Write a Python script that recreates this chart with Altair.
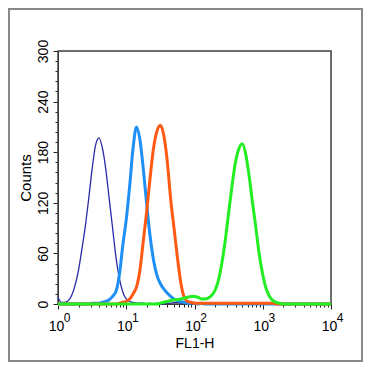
import altair as alt
import pandas as pd

# log10 channel grid (exponent of FL1-H)
EXPONENTS = [round(i * 0.05, 2) for i in range(81)]

NAVY = [8, 2, 2, 4, 10, 22, 40, 65, 92, 125, 160,
        188, 197, 185, 160, 125, 90, 55, 30, 14, 6,
        3, 2, 1, 1, 1, 0, 1, 0, 1, 0,
        0, 1, 1, 2, 2, 1, 2, 1, 1, 1,
        0, 0, 0, 0, 0, 0, 0, 0, 0, 0,
        0, 0, 0, 0, 0, 0, 0, 0, 0, 0,
        0, 0, 0, 0, 0, 0, 0, 0, 0, 0,
        0, 0, 0, 0, 0, 0, 0, 0, 0, 0]

SKY = [0, 0, 0, 0, 0, 0, 0, 0, 0, 0, 1,
       1, 1, 2, 3, 5, 9, 15, 35, 70, 100,
       140, 185, 210, 195, 160, 118, 80, 52, 34, 24,
       18, 13, 9, 6, 4, 3, 2, 1, 1, 1,
       0, 1, 0, 0, 0, 0, 0, 0, 0, 0,
       0, 0, 0, 0, 0, 0, 0, 0, 0, 0,
       0, 0, 0, 0, 0, 0, 0, 0, 0, 0,
       0, 0, 0, 0, 0, 0, 0, 0, 0, 0]

ORANGE = [0, 0, 0, 0, 0, 0, 0, 0, 0, 0, 0,
          0, 0, 0, 0, 0, 0, 0, 1, 2, 3,
          6, 12, 20, 40, 75, 110, 150, 185, 205, 212,
          200, 170, 125, 90, 55, 25, 8, 3, 2, 1,
          1, 1, 1, 1, 1, 1, 1, 1, 1, 1,
          1, 1, 1, 1, 1, 1, 1, 1, 1, 1,
          1, 1, 1, 0, 0, 0, 0, 0, 0, 0,
          0, 0, 0, 0, 0, 0, 0, 0, 0, 0]

GREEN = [0, 0, 0, 0, 0, 0, 0, 0, 0, 0, 0,
         0, 0, 0, 0, 0, 0, 0, 0, 0, 0,
         0, 0, 0, 0, 0, 0, 0, 0, 0, 1,
         2, 3, 4, 5, 5, 6, 7, 8, 9, 9,
         8, 6, 6, 7, 10, 16, 28, 48, 75, 108,
         140, 168, 184, 190, 178, 152, 120, 90, 58, 35,
         18, 9, 4, 2, 1, 0, 0, 0, 0, 0,
         0, 0, 0, 0, 0, 0, 0, 0, 0, 0]

SERIES = ["navy", "sky", "orange", "green"]
COLORS = ["#2a2aa8", "#1e8ff5", "#ff5a14", "#22ee22"]
WIDTHS = [1.3, 3, 3, 3]
Y_TICKS = [0, 60, 120, 180, 240, 300]
DECADES = [0, 1, 2, 3, 4]

W, H = 273, 253

rows = []
for k, (name, vals) in enumerate(zip(SERIES, [NAVY, SKY, ORANGE, GREEN])):
    for i, (e, v) in enumerate(zip(EXPONENTS, vals)):
        rows.append({"x": 10 ** e, "count": v, "series": name, "sidx": k,
                     "col": COLORS[k], "w": WIDTHS[k], "order": i})
df = pd.DataFrame(rows)

major_x = [10 ** d for d in DECADES]
x_vals = sorted(set([m * 10 ** d for d in DECADES[:-1] for m in range(1, 10)] + major_x))
y_vals = list(range(0, 301, 12))

x_scale = alt.Scale(type="log", domain=[1, 10000], nice=False)
y_scale = alt.Scale(domain=[0, 300], nice=False)

x_axis = alt.Axis(
    values=x_vals,
    labelExpr="indexof([1,10,100,1000,10000], datum.value) >= 0 ? '10' : ''",
    tickSize={"condition": {"test": "indexof([1,10,100,1000,10000], datum.value) >= 0", "value": 5}, "value": 3},
    labelFontSize=14, labelFont="Liberation Sans", labelColor="#000",
    labelBaseline="alphabetic", labelPadding=21, labelOffset=-2,
    labelOverlap=False, labelFlush=False,
    grid=False, domainColor="#222", tickColor="#222",
    title="FL1-H", titleFont="Liberation Sans", titleFontSize=14, titleFontWeight="normal",
    titleColor="#000", titleX=W / 2, titleY=43, titleBaseline="alphabetic", titleAlign="center",
)

y_axis = alt.Axis(
    values=y_vals,
    labelExpr="datum.value % 60 === 0 ? datum.label : ''",
    tickSize={"condition": {"test": "datum.value % 60 === 0", "value": 5}, "value": 3},
    labelFontSize=14, labelFont="Liberation Sans", labelColor="#000",
    labelAngle=270, labelAlign="center", labelBaseline="alphabetic", labelPadding=6,
    labelOverlap=False, labelFlush=False,
    grid=False, domainColor="#222", tickColor="#222",
    title="Counts", titleFont="Liberation Sans", titleFontSize=15, titleFontWeight="normal",
    titleColor="#000", titleAngle=270, titleX=-28, titleY=H / 2,
    titleBaseline="alphabetic", titleAlign="center",
)

lines = alt.Chart(df).mark_line(interpolate="monotone").encode(
    x=alt.X("x:Q", scale=x_scale, axis=x_axis),
    y=alt.Y("count:Q", scale=y_scale, axis=y_axis),
    color=alt.Color("col:N", scale=None),
    strokeWidth=alt.StrokeWidth("w:Q", scale=None),
    detail="sidx:O",
    order="order:Q",
)

sup_df = pd.DataFrame({"x": [10 ** d for d in DECADES], "sup": [str(d) for d in DECADES]})
sups = alt.Chart(sup_df).mark_text(
    fontSize=12, font="Liberation Sans", color="#000", dx=9, baseline="alphabetic", align="center"
).encode(
    x=alt.X("x:Q", scale=x_scale),
    y=alt.value(H + 18),
    text="sup:N",
)

one = pd.DataFrame({"a": [0]})

plot_frame = alt.Chart(one).mark_rect(
    fillOpacity=0, stroke="#444", strokeWidth=1.5
).encode(
    x=alt.value(0), x2=alt.value(W),
    y=alt.value(0), y2=alt.value(H),
)

frame = alt.Chart(one).mark_rect(
    fillOpacity=0, stroke="#888", strokeWidth=2
).encode(
    x=alt.value(-49), x2=alt.value(W + 31),
    y=alt.value(-42), y2=alt.value(H + 57),
)

chart = alt.layer(plot_frame, lines, sups, frame).properties(
    width=W, height=H,
    padding={"left": 50, "top": 43, "right": 32, "bottom": 58},
    autosize="none",
).configure_view(strokeWidth=0).configure(background="white")

chart.save("out.html", embed_options={"renderer": "svg", "actions": False})
